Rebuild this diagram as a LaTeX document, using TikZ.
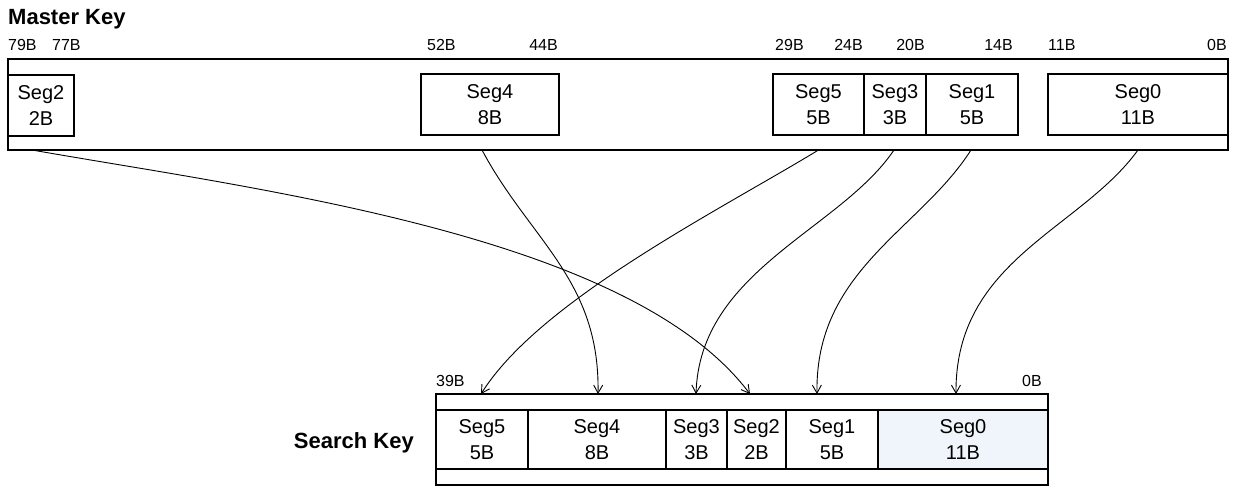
\documentclass[tikz,border=0pt]{standalone}
\usepackage{fontspec}
\setmainfont{Liberation Sans}
\usetikzlibrary{arrows.meta,calc}
\definecolor{segfill}{RGB}{240,245,252}
\begin{document}
\begin{tikzpicture}[x=1pt,y=-1pt,
  frame/.style={draw, line width=1.8pt, inner sep=0pt, outer sep=0pt},
  segbox/.style={frame, align=center, font=\fontsize{20}{26}\selectfont},
  bytelabel/.style={inner sep=0pt, font=\fontsize{16}{18}\selectfont},
  title/.style={inner sep=0pt, font=\fontsize{22}{24}\selectfont\bfseries},
  conn/.style={line width=0.9pt, -{Straight Barb[length=8pt,width=9pt,line width=0.9pt]}}
]
\useasboundingbox (0,0) rectangle (1233,487);

% ---- master key ----
\node[title, anchor=base west] (mtitle) at (8,25) {Master Key};
\node[frame, minimum width=1220pt, minimum height=91pt] (mk) at (618,104.5) {};
\node[segbox, minimum width=66pt, minimum height=61pt] (m2) at (41,105.5) {Seg2\\2B};
\node[segbox, minimum width=138pt, minimum height=61pt] (m4) at (490,104.5) {Seg4\\8B};
\node[segbox, minimum width=91pt, minimum height=61pt] (m5) at (818.5,104.5) {Seg5\\5B};
\node[segbox, minimum width=62pt, minimum height=61pt] (m3) at (895,104.5) {Seg3\\3B};
\node[segbox, minimum width=92pt, minimum height=61pt] (m1) at (972,104.5) {Seg1\\5B};
\node[segbox, minimum width=180pt, minimum height=61pt] (m0) at (1138,104.5) {Seg0\\11B};

% byte offsets above the master key
\node[bytelabel, anchor=base west] (o79) at (8,51) {79B};
\node[bytelabel, anchor=base west] (o77) at (52,51) {77B};
\node[bytelabel, anchor=base west] (o52) at (427,51) {52B};
\node[bytelabel, anchor=base east] (o44) at (558,51) {44B};
\node[bytelabel, anchor=base west] (o29) at (775,51) {29B};
\node[bytelabel, anchor=base east] (o24) at (863,51) {24B};
\node[bytelabel, anchor=base east] (o20) at (925,51) {20B};
\node[bytelabel, anchor=base east] (o14) at (1013,51) {14B};
\node[bytelabel, anchor=base west] (o11) at (1048,51) {11B};
\node[bytelabel, anchor=base east] (o0) at (1227,51) {0B};

% ---- search key ----
\node[title, anchor=base east] (stitle) at (414,448) {Search Key};
\node[frame, minimum width=612pt, minimum height=91pt] (sk) at (742,439.5) {};
\node[segbox, minimum width=92pt, minimum height=59pt] (s5) at (482,439.5) {Seg5\\5B};
\node[segbox, minimum width=138pt, minimum height=59pt] (s4) at (597,439.5) {Seg4\\8B};
\node[segbox, minimum width=61pt, minimum height=59pt] (s3) at (696.5,439.5) {Seg3\\3B};
\node[segbox, minimum width=59pt, minimum height=59pt] (s2) at (756.5,439.5) {Seg2\\2B};
\node[segbox, minimum width=92pt, minimum height=59pt] (s1) at (832,439.5) {Seg1\\5B};
\node[segbox, fill=segfill, minimum width=170pt, minimum height=59pt] (s0) at (963,439.5) {Seg0\\11B};

\node[bytelabel, anchor=base west] (q39) at (436,386) {39B};
\node[bytelabel, anchor=base east] (q0) at (1042,386) {0B};

% ---- connector end points ----
\coordinate (a2) at ($(m2.center |- mk.south)+(-9,0)$);
\coordinate (a4) at ($(m4.center |- mk.south)+(-8,0)$);
\coordinate (a5) at (m5.center |- mk.south);
\coordinate (a3) at ($(m3.center |- mk.south)+(-1,0)$);
\coordinate (a1) at ($(m1.center |- mk.south)+(-1,0)$);
\coordinate (a0) at (m0.center |- mk.south);

\coordinate (b5) at ($(s5.center |- sk.north)+(-1,0)$);
\coordinate (b4) at ($(s4.center |- sk.north)+(1,0)$);
\coordinate (b3) at ($(s3.center |- sk.north)+(-0.5,0)$);
\coordinate (b2) at ($(s2.center |- sk.north)+(-6.5,0)$);
\coordinate (b1) at ($(s1.center |- sk.north)+(-15,0)$);
\coordinate (b0) at ($(s0.center |- sk.north)+(-7,0)$);

% ---- field mapping ----
\draw[conn] (a2) .. controls (260,190) and (630,235) .. (b2);
\draw[conn] (a4) .. controls (530,240) and (600,280) .. (b4);
\draw[conn] (a5) .. controls (720,210) and (540,300) .. (b5);
\draw[conn] (a3) .. controls (840,230) and (700,270) .. (b3);
\draw[conn] (a1) .. controls (920,230) and (815,270) .. (b1);
\draw[conn] (a0) .. controls (1080,230) and (955,260) .. (b0);
\end{tikzpicture}
\end{document}
